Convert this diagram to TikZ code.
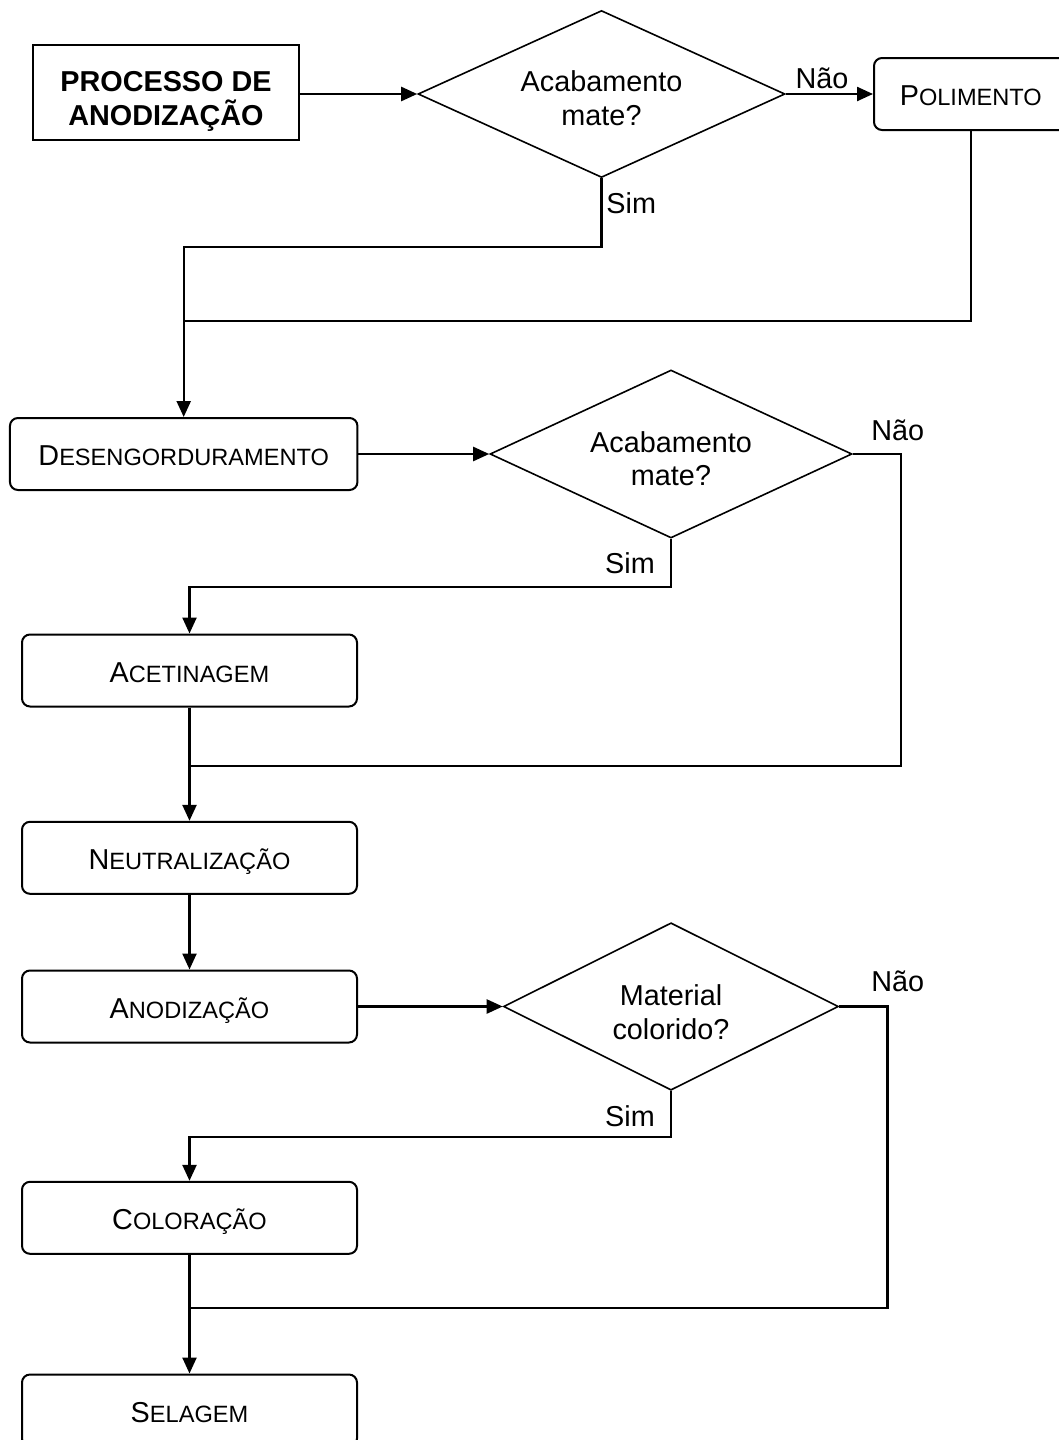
\documentclass[tikz,border=0pt]{standalone}
\usepackage{fontspec}
\setmainfont{Liberation Sans}
\usetikzlibrary{shapes.geometric,arrows.meta}
\newcommand\fsc[2]{#1{\fontsize{11.8pt}{14pt}\selectfont #2}}
\newcommand\tstrut[1]{\rule{0pt}{#1}}
\newcommand\bstrut{\rule[-4pt]{0pt}{4pt}}
\begin{document}
\begin{tikzpicture}[x=0.5pt,y=-0.5pt,line join=miter,
  mainfont/.style={font=\fontsize{14.4pt}{16.8pt}\selectfont},
  box/.style={draw,line width=1pt,rounded corners=4pt,minimum height=36pt,inner sep=0pt,
    text height=11.5pt,text depth=0pt,mainfont},
  startbox/.style={draw,line width=1.2pt,minimum width=133pt,minimum height=47.5pt,inner sep=0pt,
    align=center,font=\fontsize{14.4pt}{17pt}\selectfont\bfseries},
  dec/.style={draw,diamond,line width=0.8pt,inner sep=0pt},
  dtext/.style={align=center,inner sep=0pt,mainfont},
  lab/.style={anchor=base,inner sep=0pt,mainfont},
  conn/.style={line width=1.2pt},
  arr/.style={conn,-{Triangle[length=8pt,width=7pt]}}]

\useasboundingbox (0,0) rectangle (1059,1440);
\fill[white] (0,0) rectangle (1059,1440);
\clip (0,0) rectangle (1059,1440);

% nodes
\node[startbox] (start) at (166,92.5) {\tstrut{19.5pt}PROCESSO DE\\ANODIZAÇÃO\bstrut};

\node[dec,minimum width=183.5pt,minimum height=83.5pt] (d1) at (601.5,94) {};
\node[dtext] (d1t) at (601.5,101.5) {\tstrut{11pt}Acabamento\\mate?\bstrut};

\node[box,minimum width=96.8pt] (pol) at (970.8,94) {\fsc{P}{OLIMENTO}};

\node[box,minimum width=173.75pt] (des) at (183.7,454) {\fsc{D}{ESENGORDURAMENTO}};

\node[dec,minimum width=181pt,minimum height=84pt] (d2) at (671,454) {};
\node[dtext] (d2t) at (671,461.8) {\tstrut{11pt}Acabamento\\mate?\bstrut};

\node[box,minimum width=167.5pt] (ace) at (189.5,670.5) {\fsc{A}{CETINAGEM}};
\node[box,minimum width=167.5pt] (neu) at (189.5,857.8) {\fsc{N}{EUTRALIZAÇÃO}};
\node[box,minimum width=167.5pt] (ano) at (189.5,1006.5) {\fsc{A}{NODIZAÇÃO}};

\node[dec,minimum width=167.5pt,minimum height=83.7pt] (d3) at (671,1006.5) {};
\node[dtext] (d3t) at (671,1015.5) {\tstrut{11pt}Material\\colorido?\bstrut};

\node[box,minimum width=167.5pt] (col) at (189.5,1217.8) {\fsc{C}{OLORAÇÃO}};
\node[box,minimum width=167.5pt] (sel) at (189.5,1410.5) {\fsc{S}{ELAGEM}};

% labels
\node[lab] (nao1) at (822,88.3) {Não};
\node[lab,anchor=base west] (sim1) at (606,213) {Sim};
\node[lab] (nao2) at (897.7,440) {Não};
\node[lab] (sim2) at (630,573.3) {Sim};
\node[lab] (nao3) at (897.7,991.7) {Não};
\node[lab] (sim3) at (630,1126.7) {Sim};

% helper coordinates
\coordinate (c1) at (183.7,247);
\coordinate (j1) at (183.7,321);
\coordinate (c2) at (189.5,587);
\coordinate (k2) at (901,454);
\coordinate (j2) at (189.5,766);
\coordinate (c3) at (189.5,1137);
\coordinate (k3) at (887.6,1006.5);
\coordinate (j3) at (189.5,1308);

% connectors
\draw[arr] (start.east |- d1.west) -- (d1.west);
\draw[arr] (d1.east) -- (pol.west);
\draw[arr] (d1.south) |- (c1) -- (des.north);
\draw[conn] (pol.south) |- (j1);

\draw[arr] (des.east) -- (d2.west);
\draw[arr] (d2.south) |- (c2) -- (ace.north);
\draw[conn] (d2.east) -- (k2) |- (j2);
\draw[arr] (ace.south) -- (neu.north);
\draw[arr] (neu.south) -- (ano.north);

\draw[arr] (ano.east) -- (d3.west);
\draw[arr] (d3.south) |- (c3) -- (col.north);
\draw[conn] (d3.east) -- (k3) |- (j3);
\draw[arr] (col.south) -- (sel.north);
\end{tikzpicture}
\end{document}
